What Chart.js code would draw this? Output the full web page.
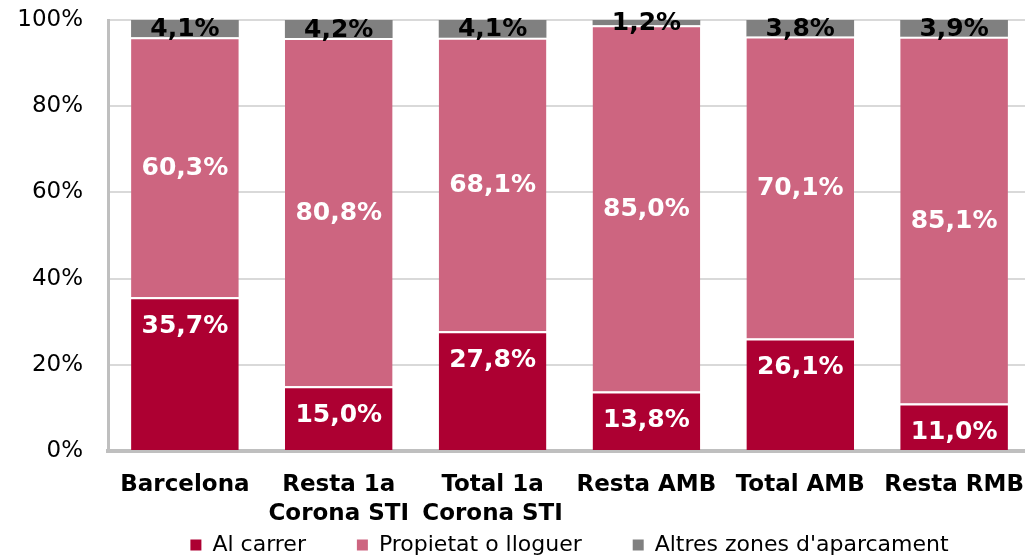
<!DOCTYPE html>
<html>
<head>
<meta charset="utf-8">
<script src="https://cdn.jsdelivr.net/npm/chart.js@4.4.1/dist/chart.umd.min.js"></script>
<style>
  html, body { margin: 0; padding: 0; overflow: hidden; background: #ffffff; }
  #wrap { width: 1032px; height: 557px; }
</style>
</head>
<body>
<div id="wrap"><canvas id="c" width="1032" height="557"></canvas></div>
<script>
const categories = [
  'Barcelona',
  ['Resta 1a', 'Corona STI'],
  ['Total 1a', 'Corona STI'],
  'Resta AMB',
  'Total AMB',
  'Resta RMB'
];
const seriesNames = ['Al carrer', 'Propietat o lloguer', "Altres zones d'aparcament"];
const alCarrer   = [35.7, 15.0, 27.8, 13.8, 26.1, 11.0];
const propietat  = [60.3, 80.8, 68.1, 85.0, 70.1, 85.1];
const altres     = [4.1, 4.2, 4.1, 1.2, 3.8, 3.9];
const yTicks = [0, 20, 40, 60, 80, 100];

const colors = ['rgb(173,0,50)', 'rgb(205,101,128)', 'rgb(128,128,128)'];
const labelColors = ['#ffffff', '#ffffff', '#000000'];
const FONT = "'DejaVu Sans', Verdana, sans-serif";

const fmt = v => v.toFixed(1).replace('.', ',') + '%';
const legendGap = ['       ', '       ', ''];

const labelPlugin = {
  id: 'segLabels',
  afterDatasetsDraw(chart) {
    const ctx = chart.ctx;
    ctx.save();
    ctx.font = 'bold 25px ' + FONT;
    ctx.textAlign = 'center';
    ctx.textBaseline = 'middle';
    chart.data.datasets.forEach((ds, di) => {
      const meta = chart.getDatasetMeta(di);
      meta.data.forEach((bar, i) => {
        const p = bar.getProps(['x', 'y', 'base'], true);
        const top = Math.min(p.y, p.base), bottom = Math.max(p.y, p.base);
        let y;
        if (di === 0) y = top + 28;
        else y = (top + bottom) / 2;
        ctx.fillStyle = labelColors[di];
        ctx.fillText(fmt(ds.data[i]), p.x, y + 1);
      });
    });
    ctx.restore();
  }
};

new Chart(document.getElementById('c'), {
  type: 'bar',
  data: {
    labels: categories,
    datasets: [
      { label: seriesNames[0], data: alCarrer, backgroundColor: colors[0],
        borderColor: '#ffffff', borderWidth: {top: 2, left: 0, right: 0, bottom: 0}, borderSkipped: false },
      { label: seriesNames[1], data: propietat, backgroundColor: colors[1],
        borderColor: '#ffffff', borderWidth: {top: 2, left: 0, right: 0, bottom: 0}, borderSkipped: false },
      { label: seriesNames[2], data: altres, backgroundColor: colors[2], borderWidth: 0 }
    ]
  },
  options: {
    responsive: false,
    animation: false,
    devicePixelRatio: 1,
    barPercentage: 0.7,
    categoryPercentage: 1.0,
    layout: { padding: { top: 20, right: 1, bottom: 0, left: 0 } },
    plugins: {
      tooltip: { enabled: false },
      legend: {
        position: 'bottom',
        fullSize: false,
        maxHeight: 25,
        labels: {
          font: { family: FONT, size: 22 },
          color: '#000000',
          boxWidth: 11,
          boxHeight: 11,
          padding: 2,
          generateLabels(chart) {
            return chart.data.datasets.map((ds, i) => ({
              text: ds.label + legendGap[i],
              fillStyle: colors[i],
              strokeStyle: '#9a9a9a',
              lineWidth: 0,
              datasetIndex: i,
              fontColor: '#000000'
            }));
          }
        }
      }
    },
    scales: {
      x: {
        stacked: true,
        grid: { display: false, drawTicks: false },
        border: { display: true, color: '#bfbfbf', width: 4 },
        ticks: {
          color: '#000000',
          font: { family: FONT, size: 23, weight: 'bold', lineHeight: 1.25 },
          padding: 20,
          maxRotation: 0,
          autoSkip: false
        },
        afterFit(scale) {
          scale.height = 81;
          scale.paddingLeft = 0; scale.paddingRight = 0;
          scale.paddingTop = 0; scale.paddingBottom = 0;
        }
      },
      y: {
        stacked: true,
        min: 0,
        max: 100,
        grid: { color: '#d9d9d9', lineWidth: 2, drawTicks: false },
        border: { display: true, color: '#bfbfbf', width: 3 },
        afterBuildTicks(scale) { scale.ticks = yTicks.map(v => ({ value: v })); },
        ticks: {
          color: '#000000',
          font: { family: FONT, size: 23 },
          padding: 25,
          callback: v => v + '%'
        },
        afterFit(scale) {
          scale.width = 108;
          scale.paddingLeft = 0; scale.paddingRight = 0;
          scale.paddingTop = 0; scale.paddingBottom = 0;
        }
      }
    }
  },
  plugins: [labelPlugin]
});
</script>
</body>
</html>
